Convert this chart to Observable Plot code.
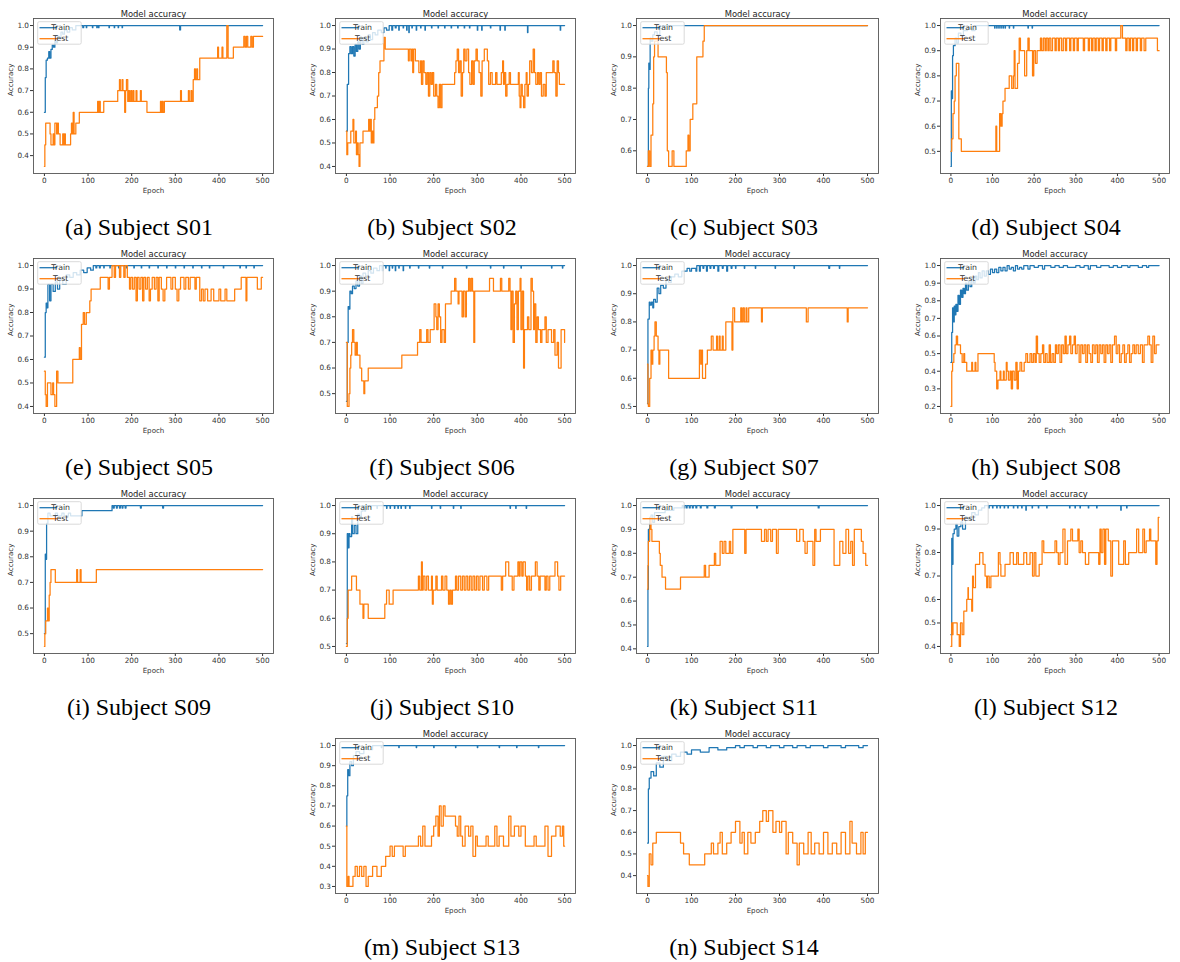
<!DOCTYPE html>
<html>
<head>
<meta charset="utf-8">
<script src="https://cdn.jsdelivr.net/npm/d3@7"></script>
<script src="https://cdn.jsdelivr.net/npm/@observablehq/plot@0.6"></script>
<style>
  html, body { margin: 0; padding: 0; background: #fff; }
  #page { position: relative; width: 1180px; height: 962px; overflow: hidden; background: #fff; }
  .panel { position: absolute; }
  .caption { position: absolute; width: 320px; text-align: center; font-family: "Liberation Serif", "Times New Roman", serif; font-size: 24px; line-height: 24px; color: #000; white-space: nowrap; }
</style>
</head>
<body>
<div id="page"></div>
<script>
// ---------- data (epoch, accuracy change points; value holds until next point) ----------
const seriesNames = ["Train", "Test"];
const seriesColors = ["#1f77b4", "#ff7f0e"];
const xTicks = [0, 100, 200, 300, 400, 500];
const chartTitle = "Model accuracy";
const xLabel = "Epoch";
const yLabel = "Accuracy";
const captions = ["(a) Subject S01","(b) Subject S02","(c) Subject S03","(d) Subject S04","(e) Subject S05","(f) Subject S06","(g) Subject S07","(h) Subject S08","(i) Subject S09","(j) Subject S10","(k) Subject S11","(l) Subject S12","(m) Subject S13","(n) Subject S14"];

const s01Train = [0,.60, 2,.76, 4,.84, 7,.85, 10,.88, 12,.85, 15,.89, 18,.91, 21,.90, 24,.93, 27,.92, 30,.95, 34,.94, 38,.97, 42,.96, 46,.98, 52,.97, 58,.99, 64,.98, 72,1.0, 88,.99, 90,1.0, 96,.99, 97,1.0, 110,.99, 111,1.0, 120,.99, 121,1.0, 124,.99, 125,1.0, 148,.99, 149,1.0, 160,.99, 161,1.0, 169,.99, 170,1.0, 178,.99, 179,1.0, 310,.98, 312,1.0, 500,1.0];
const s01Test = [0,.35, 1,.45, 3,.55, 13,.50, 15,.45, 20,.50, 22,.45, 24,.55, 28,.50, 30,.55, 32,.50, 36,.45, 42,.50, 44,.45, 46,.50, 48,.45, 60,.50, 62,.55, 64,.50, 66,.60, 68,.50, 72,.55, 80,.60, 122,.65, 124,.60, 126,.65, 128,.60, 136,.65, 168,.70, 172,.75, 174,.70, 178,.75, 180,.70, 184,.60, 186,.70, 188,.75, 191,.65, 193,.70, 195,.65, 198,.70, 200,.65, 203,.70, 205,.65, 210,.70, 212,.65, 220,.70, 222,.65, 235,.60, 266,.65, 268,.60, 270,.65, 272,.60, 275,.65, 312,.70, 314,.65, 330,.70, 332,.65, 336,.70, 338,.65, 341,.75, 344,.80, 346,.75, 349,.80, 351,.75, 356,.85, 397,.90, 399,.85, 407,.90, 409,.85, 418,1.0, 421,.85, 433,.90, 457,.95, 460,.90, 463,.95, 466,.90, 473,.95, 476,.90, 479,.95, 500,.95];

const s02Train = [0,.55, 2,.75, 5,.88, 8,.91, 11,.88, 14,.91, 17,.87, 20,.92, 23,.89, 26,.93, 29,.90, 32,.94, 36,.92, 40,.95, 45,.93, 50,.96, 55,.94, 60,.97, 66,.96, 72,.98, 80,.97, 86,.99, 92,.98, 98,1.0, 104,.98, 106,1.0, 112,.99, 114,1.0, 120,.98, 121,1.0, 130,.99, 131,1.0, 138,.98, 139,1.0, 143,.97, 144,1.0, 150,.99, 151,1.0, 160,.98, 161,1.0, 170,.99, 171,1.0, 180,.98, 181,1.0, 195,.99, 196,1.0, 210,.99, 211,1.0, 225,.99, 226,1.0, 240,.99, 241,1.0, 255,.99, 256,1.0, 270,.99, 271,1.0, 282,.99, 283,1.0, 300,.98, 301,1.0, 310,.98, 311,1.0, 330,.99, 331,1.0, 352,.98, 353,1.0, 363,.98, 364,1.0, 415,.97, 416,1.0, 490,.98, 491,1.0, 500,1.0];
const s02Test = [0,.55, 1,.45, 3,.50, 10,.55, 15,.60, 17,.50, 21,.55, 23,.45, 25,.50, 27,.45, 29,.40, 31,.50, 38,.55, 51,.60, 53,.55, 55,.60, 57,.50, 59,.55, 61,.50, 63,.60, 65,.65, 71,.70, 74,.80, 77,.85, 86,.95, 89,.90, 142,.85, 144,.90, 148,.85, 150,.90, 152,.80, 154,.90, 158,.85, 166,.80, 170,.85, 172,.75, 175,.85, 178,.80, 182,.75, 185,.80, 188,.70, 191,.80, 194,.75, 197,.80, 200,.70, 204,.75, 207,.70, 210,.65, 213,.75, 216,.65, 219,.75, 248,.80, 251,.85, 254,.90, 257,.80, 260,.85, 263,.70, 266,.80, 269,.90, 272,.85, 276,.90, 280,.80, 283,.75, 287,.85, 290,.75, 293,.85, 297,.90, 300,.85, 304,.80, 308,.70, 311,.85, 316,.90, 323,.85, 326,.75, 330,.80, 334,.75, 342,.80, 345,.75, 355,.80, 358,.85, 360,.75, 362,.80, 365,.70, 368,.75, 373,.80, 376,.75, 394,.80, 396,.70, 398,.65, 400,.75, 403,.70, 406,.65, 409,.75, 412,.80, 414,.70, 417,.75, 420,.85, 424,.80, 428,.90, 431,.80, 434,.75, 438,.80, 441,.75, 444,.80, 447,.70, 451,.75, 455,.70, 458,.80, 473,.85, 476,.80, 480,.70, 483,.85, 486,.80, 488,.75, 500,.75];

const s03Train = [0,.55, 2,.80, 3,.88, 4,.86, 6,.96, 8,.95, 12,.97, 16,.98, 22,.97, 28,.99, 34,1.0, 500,1.0];
const s03Test = [0,.55, 2,.60, 5,.55, 8,.65, 12,.75, 14,.90, 16,.95, 24,.90, 43,.85, 45,.60, 48,.55, 56,.60, 60,.55, 88,.60, 92,.65, 94,.60, 97,.70, 103,.75, 112,.90, 126,.95, 129,1.0, 500,1.0];

const s04Train = [0,.44, 1,.74, 2,.71, 4,.88, 6,.92, 10,.95, 14,.93, 18,.97, 24,.96, 30,.98, 40,.99, 50,.98, 58,1.0, 105,.99, 106,1.0, 110,.99, 111,1.0, 115,.99, 116,1.0, 120,.99, 121,1.0, 125,.99, 126,1.0, 130,.99, 131,1.0, 140,.99, 141,1.0, 150,.99, 151,1.0, 185,.99, 186,1.0, 195,.99, 196,1.0, 500,1.0];
const s04Test = [0,.50, 2,.55, 5,.65, 8,.70, 10,.80, 13,.85, 19,.55, 25,.50, 108,.60, 110,.50, 117,.65, 120,.60, 123,.65, 125,.70, 130,.75, 140,.80, 146,.75, 150,.80, 152,.90, 154,.75, 160,.85, 164,.95, 167,.90, 177,.80, 182,.90, 185,.95, 188,.90, 196,.80, 199,.90, 203,.85, 207,.90, 215,.95, 218,.90, 222,.95, 226,.90, 229,.95, 233,.90, 236,.95, 240,.90, 244,.95, 250,.90, 253,.95, 258,.90, 261,.95, 266,.90, 270,.95, 275,.90, 278,.95, 285,.90, 288,.95, 294,.90, 297,.95, 303,.90, 306,.95, 318,.90, 321,.95, 330,.90, 333,.95, 338,.90, 341,.95, 346,.90, 349,.95, 354,.90, 357,.95, 363,.90, 366,.95, 372,.90, 375,.95, 381,.90, 384,.95, 395,.90, 398,.95, 408,1.0, 412,.95, 420,.90, 423,.95, 428,.90, 431,.95, 436,.90, 439,.95, 445,.90, 448,.95, 455,.90, 458,.95, 464,.90, 468,.95, 496,.90, 500,.90];

const s05Train = [0,.61, 2,.80, 4,.84, 6,.82, 8,.92, 12,.85, 15,.92, 20,.89, 25,.93, 30,.90, 35,.94, 42,.92, 50,.96, 58,.95, 66,.97, 74,.96, 82,.98, 90,.97, 98,.99, 106,.98, 112,1.0, 118,.99, 120,1.0, 126,.99, 128,1.0, 136,.99, 137,1.0, 150,.99, 151,1.0, 170,.99, 171,1.0, 188,.99, 189,1.0, 205,.99, 206,1.0, 222,.99, 223,1.0, 240,.99, 241,1.0, 260,.99, 261,1.0, 280,.99, 281,1.0, 300,.99, 301,1.0, 320,.99, 321,1.0, 340,.99, 341,1.0, 360,.99, 361,1.0, 378,.99, 379,1.0, 410,.99, 411,1.0, 448,.99, 449,1.0, 462,.99, 463,1.0, 480,.99, 481,1.0, 500,1.0];
const s05Test = [0,.55, 2,.45, 4,.40, 7,.50, 15,.45, 19,.50, 21,.45, 24,.40, 28,.55, 31,.50, 65,.60, 80,.65, 82,.60, 85,.75, 89,.80, 92,.75, 96,.80, 104,.85, 107,.90, 128,.95, 146,.90, 149,.95, 155,1.0, 160,.95, 163,1.0, 172,.95, 175,1.0, 182,.95, 185,1.0, 190,.95, 195,.90, 198,.95, 202,.90, 206,.95, 210,.85, 213,.95, 217,.90, 221,.95, 225,.85, 228,.95, 232,.90, 236,.95, 240,.85, 243,.90, 247,.95, 252,.90, 256,.95, 260,.85, 263,.95, 268,.90, 272,.85, 276,.90, 280,.95, 290,.90, 294,.95, 300,.90, 304,.85, 308,.90, 312,.95, 320,.90, 324,.95, 330,.90, 334,.95, 345,.90, 348,.95, 356,.85, 360,.90, 364,.85, 368,.90, 374,.85, 382,.90, 388,.85, 400,.90, 404,.85, 414,.90, 418,.85, 436,.90, 451,.95, 462,.85, 464,.95, 488,.90, 497,.95, 500,.95];

const s06Train = [0,.47, 2,.70, 4,.84, 6,.83, 8,.90, 11,.89, 14,.92, 18,.91, 22,.94, 26,.92, 30,.96, 34,.93, 38,.97, 44,.96, 50,.98, 56,.97, 62,.99, 70,.98, 76,1.0, 82,.98, 83,1.0, 90,.99, 91,1.0, 98,.98, 99,1.0, 105,.99, 106,1.0, 112,.98, 113,1.0, 120,.99, 121,1.0, 130,.98, 131,1.0, 145,.99, 146,1.0, 165,.99, 166,1.0, 190,.99, 191,1.0, 220,.99, 221,1.0, 275,.99, 276,1.0, 330,.99, 331,1.0, 360,.99, 361,1.0, 400,.99, 401,1.0, 470,.99, 471,1.0, 495,.99, 496,1.0, 500,1.0];
const s06Test = [0,.70, 2,.45, 6,.50, 8,.60, 10,.65, 12,.70, 14,.75, 17,.70, 20,.65, 23,.70, 25,.65, 31,.60, 35,.55, 40,.50, 42,.55, 50,.60, 127,.65, 163,.70, 168,.75, 171,.70, 184,.75, 187,.70, 192,.75, 201,.85, 205,.80, 207,.75, 210,.85, 213,.80, 216,.70, 219,.75, 224,.70, 227,.85, 240,.90, 248,.95, 251,.90, 256,.85, 258,.90, 265,.80, 268,.90, 272,.80, 275,.90, 280,.95, 283,.90, 286,.95, 289,.90, 292,.70, 294,.90, 328,.95, 337,.90, 353,.95, 356,.90, 372,.95, 375,.90, 377,.75, 379,.90, 382,.70, 385,.85, 388,.90, 391,.75, 394,.90, 398,.95, 400,.75, 403,.90, 406,.60, 408,.75, 415,.80, 418,.75, 423,.95, 426,.90, 429,.75, 431,.85, 434,.70, 437,.80, 440,.75, 445,.70, 448,.75, 455,.80, 458,.70, 462,.75, 470,.70, 475,.75, 478,.65, 483,.70, 486,.60, 492,.75, 500,.70];

const s07Train = [0,.51, 1,.81, 4,.87, 6,.86, 9,.87, 12,.85, 14,.88, 18,.87, 22,.92, 26,.90, 30,.93, 36,.92, 42,.95, 48,.94, 54,.96, 62,.97, 70,.96, 78,.98, 90,.99, 96,.98, 100,.99, 110,.98, 112,1.0, 118,.98, 120,1.0, 126,.99, 128,1.0, 134,.98, 136,1.0, 142,.99, 144,1.0, 150,.99, 152,1.0, 160,.98, 162,1.0, 170,.99, 172,1.0, 180,.98, 182,1.0, 190,.99, 192,1.0, 200,.99, 201,1.0, 220,.99, 221,1.0, 245,.99, 246,1.0, 290,.99, 291,1.0, 333,.99, 334,1.0, 412,.99, 414,1.0, 436,.99, 437,1.0, 500,1.0];
const s07Test = [0,.65, 1,.51, 2,.50, 5,.60, 8,.70, 10,.65, 12,.70, 15,.75, 17,.80, 20,.75, 24,.70, 26,.65, 28,.70, 48,.60, 118,.70, 121,.65, 123,.70, 125,.60, 132,.65, 136,.70, 145,.75, 149,.70, 157,.75, 159,.70, 163,.75, 165,.70, 170,.75, 172,.70, 178,.80, 192,.70, 194,.85, 198,.80, 212,.85, 214,.80, 217,.85, 220,.80, 224,.85, 226,.80, 230,.85, 259,.80, 261,.85, 361,.80, 365,.85, 454,.80, 456,.85, 500,.85];

const s08Train = [0,.45, 2,.62, 4,.76, 6,.68, 8,.77, 10,.72, 12,.78, 14,.74, 17,.83, 20,.78, 23,.86, 26,.82, 29,.87, 32,.84, 35,.90, 38,.86, 42,.91, 46,.88, 50,.93, 54,.90, 58,.94, 62,.92, 66,.96, 70,.93, 75,.97, 80,.94, 85,.97, 90,.95, 95,.98, 100,.96, 105,.98, 110,.96, 115,.99, 120,.97, 125,.99, 130,.97, 135,1.0, 140,.98, 145,.99, 150,.97, 155,1.0, 160,.98, 165,.99, 170,.98, 175,1.0, 185,.98, 190,1.0, 200,.99, 210,1.0, 220,.98, 225,1.0, 240,.99, 250,1.0, 260,.99, 270,1.0, 280,.99, 300,1.0, 310,.99, 320,1.0, 330,.98, 335,1.0, 350,.99, 360,1.0, 380,.99, 390,1.0, 400,.99, 410,1.0, 425,.99, 430,1.0, 450,.99, 460,1.0, 470,.99, 475,1.0, 500,1.0];
const s08Test = [0,.20, 2,.40, 4,.45, 7,.50, 10,.55, 13,.60, 16,.55, 23,.50, 27,.45, 31,.50, 33,.45, 38,.40, 50,.45, 52,.40, 58,.45, 60,.40, 65,.50, 104,.45, 106,.40, 110,.30, 113,.35, 118,.40, 120,.35, 126,.40, 128,.35, 133,.45, 135,.40, 138,.35, 142,.40, 145,.30, 148,.40, 152,.35, 156,.45, 159,.30, 162,.40, 166,.45, 170,.40, 176,.45, 180,.50, 184,.45, 190,.50, 194,.45, 198,.50, 202,.45, 205,.60, 208,.50, 212,.45, 216,.50, 220,.55, 223,.45, 227,.50, 231,.45, 236,.55, 239,.45, 243,.50, 247,.45, 251,.55, 254,.50, 258,.55, 262,.45, 266,.55, 270,.50, 274,.60, 277,.50, 281,.55, 285,.60, 288,.50, 292,.55, 296,.60, 299,.50, 303,.55, 308,.45, 312,.55, 316,.50, 320,.55, 324,.45, 328,.55, 332,.50, 336,.45, 340,.55, 344,.50, 348,.55, 352,.45, 356,.55, 360,.50, 364,.55, 368,.45, 372,.55, 376,.50, 380,.55, 384,.45, 388,.55, 393,.60, 397,.50, 401,.55, 405,.45, 409,.50, 413,.55, 417,.45, 421,.50, 425,.55, 429,.45, 433,.50, 437,.55, 441,.50, 445,.55, 450,.50, 455,.55, 460,.45, 464,.55, 473,.60, 477,.55, 481,.45, 485,.60, 489,.50, 493,.55, 500,.55];

const s09Train = [0,.50, 2,.81, 3,.79, 5,.93, 8,.97, 13,.96, 25,.97, 30,.96, 40,.97, 45,.96, 55,.97, 60,.96, 86,.98, 155,1.0, 158,.99, 160,1.0, 165,.99, 167,1.0, 172,.99, 174,1.0, 178,.99, 180,1.0, 185,.99, 187,1.0, 220,.99, 222,1.0, 271,.99, 273,1.0, 500,1.0];
const s09Test = [0,.45, 1,.50, 3,.55, 7,.60, 9,.55, 11,.65, 13,.70, 15,.75, 25,.70, 74,.75, 76,.70, 82,.75, 84,.70, 119,.75, 500,.75];

const s10Train = [0,.51, 2,.90, 4,.85, 6,.90, 8,.89, 12,.96, 14,.90, 18,.93, 22,.90, 26,.97, 30,.96, 34,.98, 38,1.0, 42,.98, 44,1.0, 55,.99, 56,1.0, 70,.99, 71,1.0, 92,.99, 93,1.0, 100,.99, 101,1.0, 110,.99, 111,1.0, 118,.99, 119,1.0, 125,.99, 126,1.0, 135,.99, 136,1.0, 145,.99, 146,1.0, 195,.99, 196,1.0, 215,.99, 216,1.0, 245,.99, 246,1.0, 262,.99, 263,1.0, 375,.99, 376,1.0, 388,.99, 389,1.0, 412,.99, 413,1.0, 500,1.0];
const s10Test = [0,.50, 2,.60, 4,.70, 12,.75, 23,.70, 31,.65, 38,.60, 40,.65, 50,.60, 88,.65, 92,.70, 98,.65, 107,.70, 165,.75, 168,.70, 172,.80, 174,.70, 176,.75, 180,.70, 184,.75, 188,.70, 195,.75, 197,.65, 199,.70, 205,.75, 208,.70, 218,.75, 221,.70, 226,.75, 230,.70, 234,.65, 237,.70, 240,.65, 243,.70, 250,.75, 253,.70, 257,.75, 262,.70, 266,.75, 270,.70, 274,.75, 278,.70, 282,.75, 286,.70, 290,.75, 294,.70, 298,.75, 302,.70, 306,.75, 312,.70, 316,.75, 322,.70, 326,.75, 355,.70, 358,.75, 365,.80, 372,.75, 380,.70, 384,.75, 393,.80, 396,.75, 398,.80, 402,.75, 405,.80, 410,.75, 413,.70, 416,.75, 420,.70, 424,.75, 433,.80, 437,.75, 441,.70, 444,.75, 455,.70, 458,.75, 462,.70, 466,.75, 478,.80, 484,.75, 487,.70, 491,.75, 500,.75];

const s11Train = [0,.41, 1,.65, 2,.90, 5,.95, 8,.96, 12,.93, 16,.97, 25,.97, 40,.98, 60,.99, 79,1.0, 82,.99, 84,1.0, 88,.99, 90,1.0, 95,.99, 97,1.0, 102,.99, 104,1.0, 110,.99, 112,1.0, 120,.99, 122,1.0, 135,.99, 137,1.0, 152,.99, 154,1.0, 190,.99, 192,1.0, 248,.99, 250,1.0, 388,.99, 390,1.0, 500,1.0];
const s11Test = [0,.65, 1,.75, 2,.85, 5,.90, 6,.95, 8,.90, 10,.85, 27,.80, 29,.75, 33,.70, 41,.65, 75,.70, 129,.75, 132,.70, 140,.75, 152,.80, 155,.75, 165,.85, 170,.80, 174,.85, 178,.80, 186,.85, 189,.80, 194,.90, 221,.80, 224,.90, 259,.85, 266,.90, 270,.85, 274,.90, 280,.85, 284,.90, 293,.80, 297,.90, 339,.85, 346,.90, 354,.85, 358,.80, 363,.85, 376,.75, 380,.90, 383,.85, 393,.90, 424,.75, 437,.85, 444,.80, 451,.90, 457,.80, 462,.85, 466,.75, 470,.90, 486,.85, 490,.80, 496,.75, 500,.75];

const s12Train = [0,.45, 2,.86, 3,.75, 5,.88, 8,.90, 12,.92, 15,.87, 19,.91, 24,.93, 28,.90, 35,.95, 42,.94, 50,.97, 58,.96, 66,.98, 74,.99, 81,1.0, 90,.99, 92,1.0, 100,.99, 101,1.0, 110,.99, 111,1.0, 118,.99, 119,1.0, 128,.99, 129,1.0, 137,.99, 138,1.0, 150,.99, 151,1.0, 160,.99, 161,1.0, 170,.99, 171,1.0, 180,.98, 181,1.0, 195,.99, 196,1.0, 210,.99, 211,1.0, 230,.99, 231,1.0, 285,.99, 286,1.0, 298,.99, 299,1.0, 310,.99, 311,1.0, 330,.99, 331,1.0, 350,.99, 351,1.0, 408,.98, 409,1.0, 422,.99, 423,1.0, 500,1.0];
const s12Test = [0,.40, 2,.50, 4,.45, 5,.50, 15,.45, 20,.40, 23,.50, 27,.45, 31,.55, 38,.60, 41,.65, 42,.60, 50,.55, 52,.70, 54,.65, 59,.75, 69,.80, 77,.75, 82,.70, 86,.65, 88,.70, 92,.65, 96,.70, 114,.80, 118,.75, 120,.70, 130,.75, 142,.80, 150,.75, 158,.80, 162,.75, 175,.80, 182,.75, 190,.80, 196,.70, 200,.80, 204,.70, 212,.75, 219,.85, 223,.80, 250,.85, 254,.80, 258,.75, 262,.80, 269,.90, 274,.75, 280,.85, 288,.90, 292,.85, 305,.90, 308,.80, 312,.85, 316,.80, 323,.75, 331,.80, 355,.75, 358,.90, 361,.80, 365,.90, 369,.75, 372,.90, 378,.85, 384,.70, 388,.85, 403,.75, 415,.85, 419,.75, 427,.80, 446,.90, 451,.80, 461,.90, 465,.80, 469,.85, 477,.90, 480,.85, 492,.75, 495,.85, 498,.95, 500,.95];

const s13Train = [0,.60, 1,.75, 3,.88, 5,.85, 8,.92, 12,.90, 16,.95, 22,.97, 30,.96, 40,.99, 50,.98, 60,1.0, 80,.99, 81,1.0, 120,.99, 121,1.0, 160,.99, 161,1.0, 200,.99, 201,1.0, 250,.99, 251,1.0, 300,.99, 301,1.0, 350,.99, 351,1.0, 390,.99, 391,1.0, 440,.99, 441,1.0, 500,1.0];
const s13Test = [0,.60, 1,.30, 4,.35, 6,.30, 15,.35, 20,.40, 25,.35, 30,.40, 35,.35, 40,.40, 45,.30, 50,.35, 60,.40, 70,.35, 80,.40, 90,.45, 100,.50, 105,.45, 110,.50, 130,.45, 135,.50, 165,.55, 170,.50, 175,.60, 180,.50, 195,.55, 200,.60, 205,.65, 210,.55, 213,.70, 217,.60, 222,.70, 226,.65, 250,.60, 254,.55, 258,.65, 262,.55, 266,.50, 272,.60, 280,.55, 285,.60, 290,.45, 296,.55, 300,.50, 320,.55, 325,.50, 340,.60, 345,.50, 350,.55, 360,.50, 372,.65, 377,.55, 385,.60, 395,.55, 400,.60, 410,.50, 430,.55, 435,.50, 455,.60, 462,.45, 470,.55, 480,.60, 490,.55, 495,.60, 498,.50, 500,.50];

const s14Train = [0,.55, 2,.80, 4,.85, 8,.88, 14,.86, 20,.92, 28,.90, 36,.95, 45,.93, 55,.96, 65,.95, 75,.97, 90,.96, 100,.98, 120,.97, 140,.99, 160,.98, 180,.99, 200,1.0, 210,.99, 220,1.0, 240,.99, 250,1.0, 270,.99, 280,1.0, 300,.99, 310,1.0, 330,.99, 340,1.0, 360,.99, 370,1.0, 400,.99, 410,1.0, 440,.99, 450,1.0, 480,.99, 490,1.0, 500,1.0];
const s14Test = [0,.40, 1,.35, 4,.50, 8,.45, 12,.55, 20,.60, 75,.55, 82,.50, 95,.45, 130,.50, 145,.55, 150,.50, 160,.55, 165,.60, 170,.50, 180,.55, 190,.60, 200,.65, 210,.55, 215,.60, 220,.50, 228,.60, 235,.55, 245,.60, 255,.65, 262,.70, 270,.65, 275,.70, 285,.60, 292,.65, 300,.60, 305,.65, 315,.50, 320,.60, 330,.55, 340,.45, 345,.55, 355,.50, 365,.60, 372,.50, 380,.55, 390,.50, 400,.60, 410,.50, 420,.55, 430,.50, 440,.60, 450,.50, 460,.65, 465,.55, 475,.50, 485,.60, 490,.50, 495,.60, 500,.60];

const trainSeries = [s01Train,s02Train,s03Train,s04Train,s05Train,s06Train,s07Train,s08Train,s09Train,s10Train,s11Train,s12Train,s13Train,s14Train];
const testSeries = [s01Test,s02Test,s03Test,s04Test,s05Test,s06Test,s07Test,s08Test,s09Test,s10Test,s11Test,s12Test,s13Test,s14Test];

// ---------- layout ----------
const colFrameLeft = [33, 335, 636, 940];
const colFrameWidth = [240, 240, 242, 229];
const colCaptionCenter = [139, 442, 744, 1046];
const rowFrameTop = [18, 258, 498, 738];
const rowCaptionBaseline = [235, 475, 715, 955];
const panelCell = [[0,0],[0,1],[0,2],[0,3],[1,0],[1,1],[1,2],[1,3],[2,0],[2,1],[2,2],[2,3],[3,1],[3,2]];
const FRAME_H = 155, ML = 32, MR = 6, MT = 18, MB = 28;

function toRows(flat, name) {
  const rows = [];
  for (let i = 0; i < flat.length; i += 2) rows.push({epoch: flat[i], acc: flat[i + 1], series: name});
  return rows;
}

function legendMark() {
  return (index, scales, values, dimensions) => {
    const g = d3.create("svg:g");
    const x0 = dimensions.marginLeft + 4.7, y0 = dimensions.marginTop + 3.7;
    g.append("rect").attr("x", x0).attr("y", y0).attr("width", 43.5).attr("height", 22.5).attr("rx", 1.5)
      .attr("fill", "white").attr("fill-opacity", 0.8).attr("stroke", "#d0d0d0").attr("stroke-width", 0.8);
    seriesNames.forEach((name, i) => {
      const y = y0 + 6 + i * 11;
      g.append("line").attr("x1", x0 + 1.8).attr("x2", x0 + 19.5).attr("y1", y).attr("y2", y)
        .attr("stroke", seriesColors[i]).attr("stroke-width", 1.3);
      g.append("text").attr("x", x0 + 23).attr("y", y).attr("dy", "0.35em")
        .attr("font-size", 7.8).attr("fill", "#333").text(name);
    });
    return g.node();
  };
}

const page = document.getElementById("page");
panelCell.forEach(([r, c], k) => {
  const train = toRows(trainSeries[k], seriesNames[0]);
  const test = toRows(testSeries[k], seriesNames[1]);
  const vals = train.concat(test).map(d => d.acc);
  const lo = d3.min(vals), hi = d3.max(vals), pad = (hi - lo) * 0.05;
  const yDom = [lo - pad, hi + pad];
  const yTicks = d3.range(Math.ceil(yDom[0] * 10 - 1e-9), Math.floor(yDom[1] * 10 + 1e-9) + 1).map(v => v / 10);
  const fw = colFrameWidth[c];
  const chart = Plot.plot({
    width: fw + ML + MR,
    height: FRAME_H + MT + MB,
    marginLeft: ML, marginRight: MR, marginTop: MT, marginBottom: MB,
    style: {fontFamily: "DejaVu Sans, sans-serif", fontSize: "7.3px", color: "#333", background: "transparent", overflow: "visible"},
    x: {domain: [-25, 525], ticks: xTicks, tickSize: 3, tickPadding: 1.5, label: null},
    y: {domain: yDom, ticks: yTicks, tickFormat: ".1f", tickSize: 3, tickPadding: 1.5, label: null},
    marks: [
      Plot.line(train, {x: "epoch", y: "acc", stroke: seriesColors[0], strokeWidth: 1.25, curve: "step-after"}),
      Plot.line(test, {x: "epoch", y: "acc", stroke: seriesColors[1], strokeWidth: 1.25, curve: "step-after"}),
      Plot.frame({stroke: "#555", strokeWidth: 0.9}),
      legendMark(),
      Plot.text([chartTitle], {frameAnchor: "top", dy: -7, fontSize: 8.4, fill: "#222"}),
      Plot.text([xLabel], {frameAnchor: "bottom", dy: 19, fontSize: 7.1, fill: "#333"}),
      Plot.text([yLabel], {frameAnchor: "left", dx: -23, rotate: -90, fontSize: 7.1, fill: "#333"})
    ]
  });
  const div = document.createElement("div");
  div.className = "panel";
  div.style.left = (colFrameLeft[c] - ML) + "px";
  div.style.top = (rowFrameTop[r] - MT) + "px";
  div.appendChild(chart);
  page.appendChild(div);

  const cap = document.createElement("div");
  cap.className = "caption";
  cap.style.left = (colCaptionCenter[c] - 160) + "px";
  cap.style.top = (rowCaptionBaseline[r] - 20) + "px";
  cap.textContent = captions[k];
  page.appendChild(cap);
});
</script>
</body>
</html>
